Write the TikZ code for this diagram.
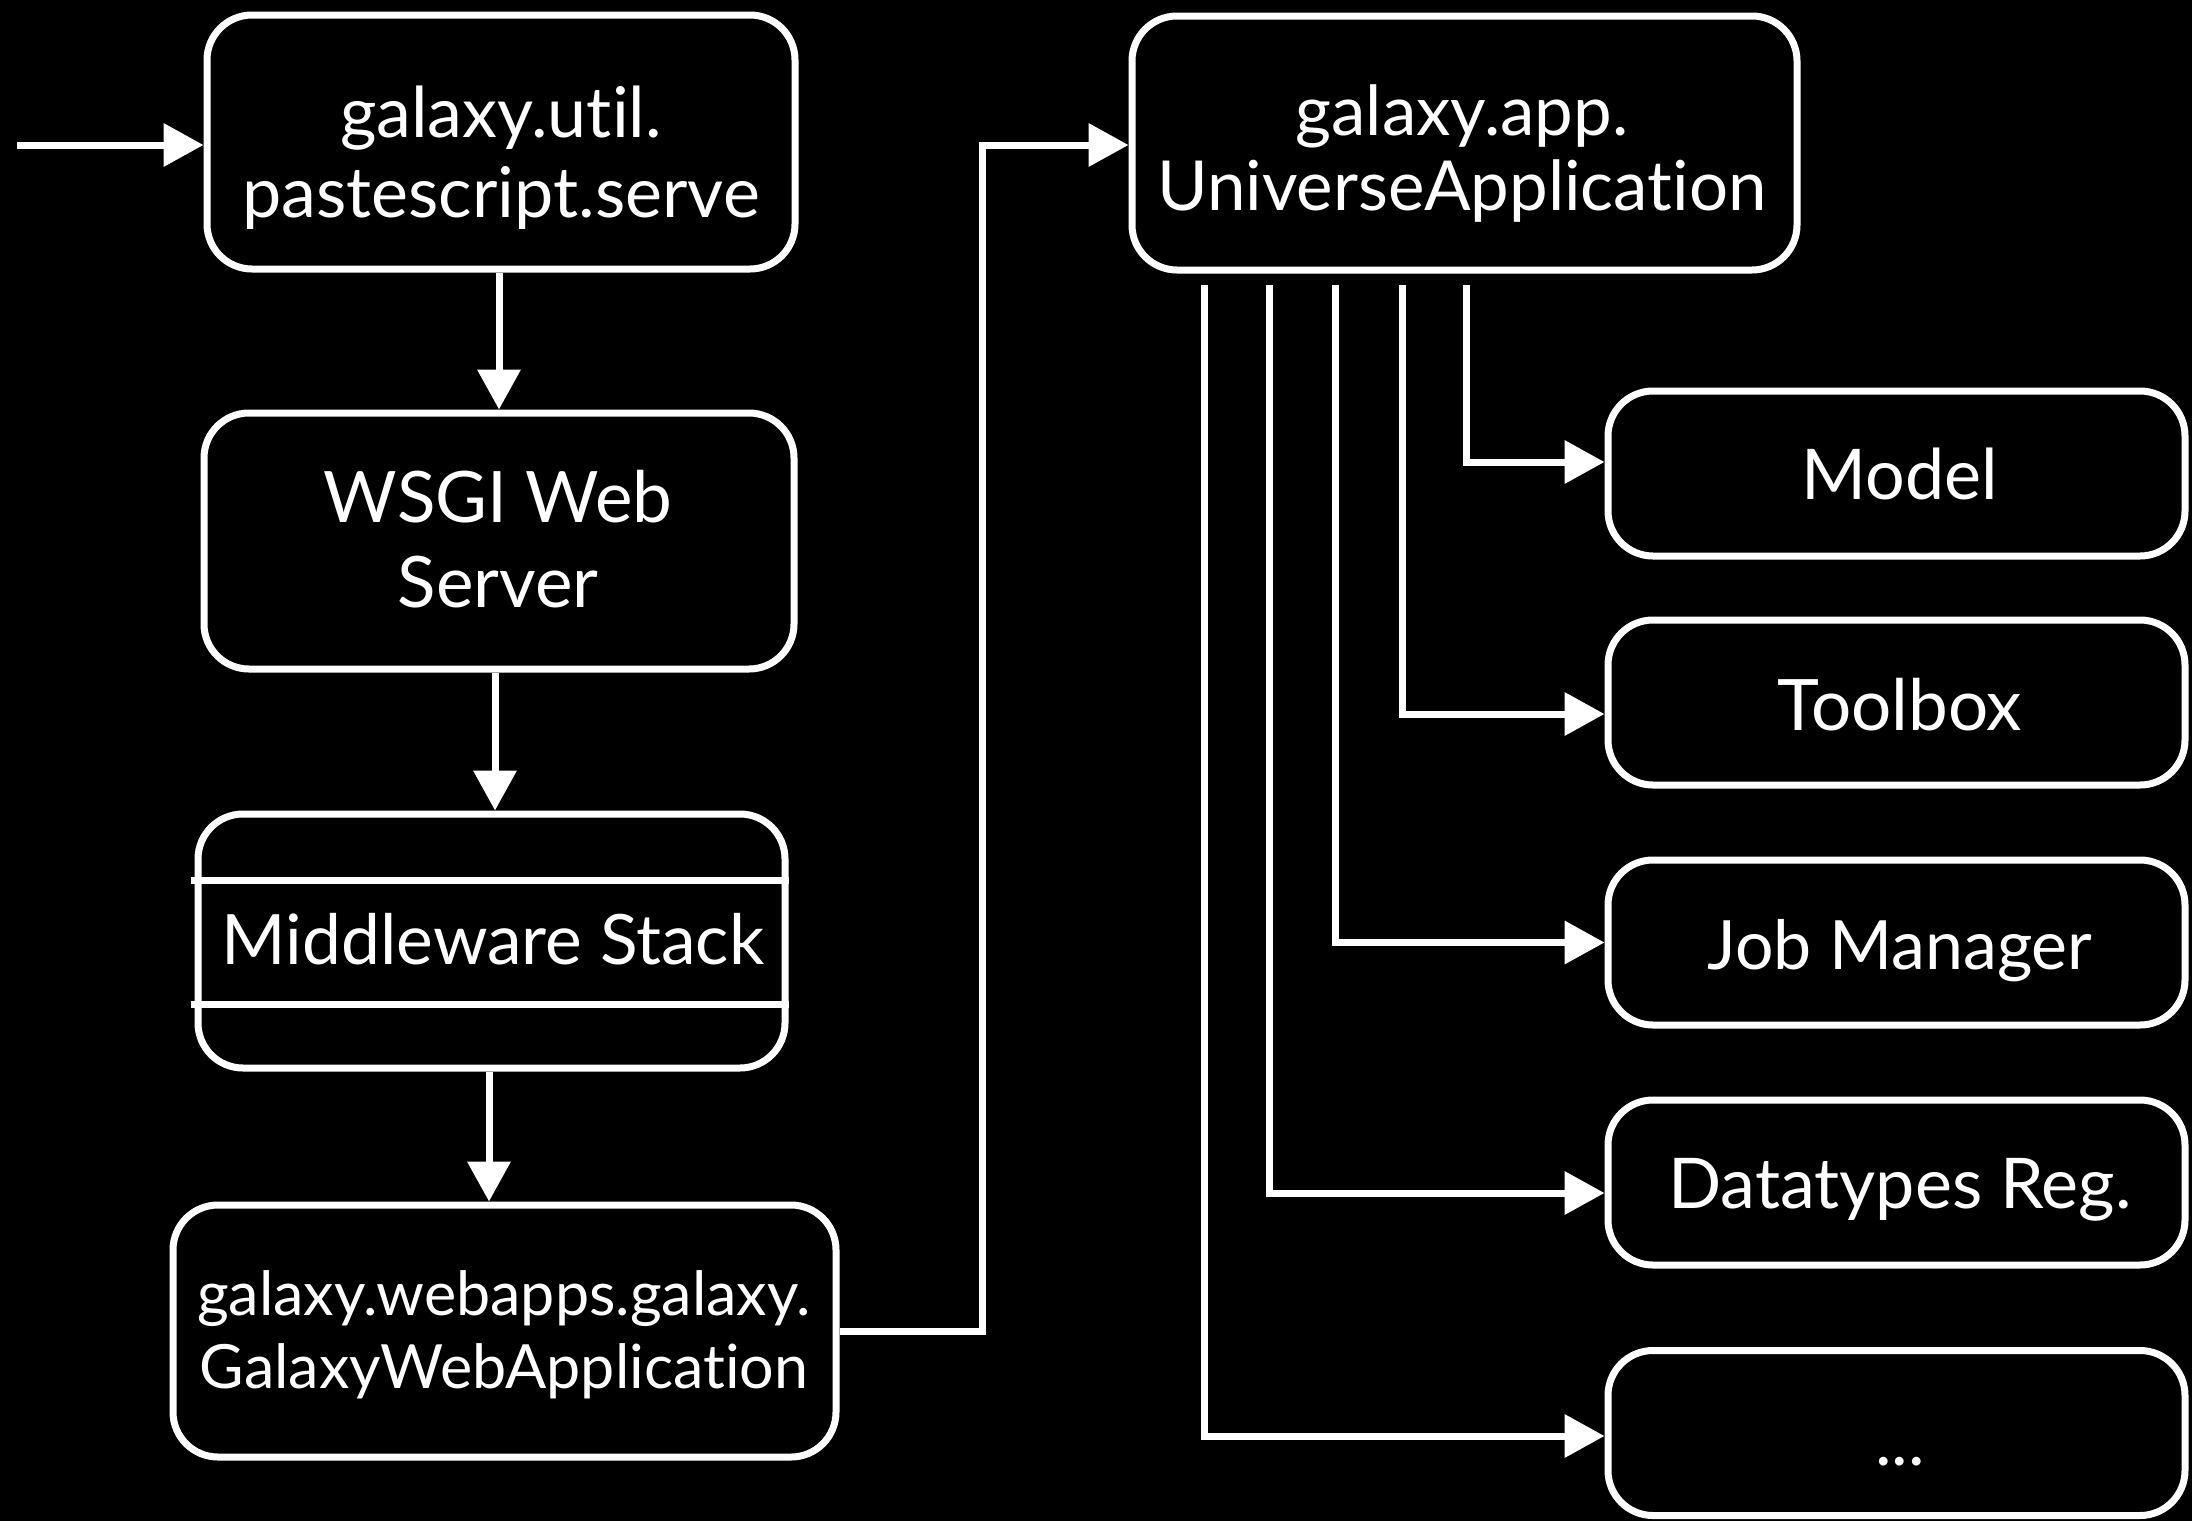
\documentclass[tikz,border=0pt]{standalone}
\usepackage{fontspec}
\setmainfont{Lato}[Ligatures=NoCommon]
\usetikzlibrary{arrows.meta,calc}
\begin{document}
\begin{tikzpicture}[x=1pt,y=-1pt,
  box/.style={draw=white, line width=7pt, rounded corners=45pt, inner sep=0pt, fill=black},
  lbl/.style={text=white, inner sep=0pt, align=center, anchor=base},
  wire/.style={draw=white, line width=7pt},
  arr/.style={wire, -{Triangle[length=40pt,width=42pt]}}]
% page
\fill[black] (0,0) rectangle (2192,1521);
\useasboundingbox (0,0) rectangle (2192,1521);

% left column
\node[box, minimum width=588pt, minimum height=254pt] (serve) at (501,142) {};
\node[box, minimum width=590pt, minimum height=256pt] (wsgi) at (499,541) {};
\node[box, minimum width=587pt, minimum height=254pt] (mw) at (491.5,941) {};
\node[box, minimum width=663pt, minimum height=252pt] (gwa) at (504.5,1331) {};

% application and its parts
\node[box, minimum width=665pt, minimum height=254pt] (uni) at (1464.5,143) {};
\node[box, minimum width=577pt, minimum height=165pt] (model) at (1896.5,473.5) {};
\node[box, minimum width=577pt, minimum height=165pt] (tool) at (1896.5,702.5) {};
\node[box, minimum width=577pt, minimum height=165pt] (job) at (1896.5,942.5) {};
\node[box, minimum width=577pt, minimum height=165pt] (dtype) at (1896.5,1182.5) {};
\node[box, minimum width=577pt, minimum height=165pt] (more) at (1896.5,1433) {};

% labels (anchored at the baseline of the last line)
\node[lbl, font=\fontsize{70}{80}\selectfont] (serve-t) at (501,217) {galaxy.util.\\pastescript.serve};
\node[lbl, font=\fontsize{71}{85}\selectfont] (wsgi-t) at (498,607) {WSGI Web\\Server};
\node[lbl, font=\fontsize{69.5}{80}\selectfont] (mw-t) at (493,964) {Middleware Stack};
\node[lbl, font=\fontsize{61}{73}\selectfont] (gwa-t) at (504,1388) {galaxy.webapps.galaxy.\\GalaxyWebApplication};
\node[lbl, font=\fontsize{69}{75}\selectfont] (uni-t) at (1462,210) {galaxy.app.\\UniverseApplication};
\node[lbl, font=\fontsize{70}{80}\selectfont] (model-t) at (1900,499) {Model};
\node[lbl, font=\fontsize{71}{80}\selectfont] (tool-t) at (1900,730) {Toolbox};
\node[lbl, font=\fontsize{68}{80}\selectfont] (job-t) at (1900,969) {Job Manager};
\node[lbl, font=\fontsize{70}{80}\selectfont] (dtype-t) at (1900,1208) {Datatypes Reg.};
\node[lbl, font=\fontsize{70}{80}\selectfont] (more-t) at (1900,1465) {...};

% stack separators
\draw[wire] ([xshift=-4pt,yshift=61pt]mw.west) -- ([yshift=61pt]mw.east);
\draw[wire] ([xshift=-4pt,yshift=-63pt]mw.west) -- ([yshift=-63pt]mw.east);

% request path
\coordinate (entry) at (17,145);
\draw[arr] (entry) -- (entry -| serve.west);
\draw[arr] ([xshift=-2pt]serve.south) -- ([xshift=-2pt]serve.south |- wsgi.north);
\draw[arr] ([xshift=-4pt]wsgi.south) -- ([xshift=-4pt]wsgi.south |- mw.north);
\draw[arr] ([xshift=-2.5pt]mw.south) -- ([xshift=-2.5pt]mw.south |- gwa.north);
\coordinate (up) at (982,145);
\draw[arr] (gwa.east) -| (up) -- (up -| uni.west);

% application components
\draw[arr] ([xshift=1.5pt,yshift=-11pt]uni.south) |- ([yshift=11.5pt]model.west);
\draw[arr] ([xshift=-62.5pt,yshift=-11pt]uni.south) |- ([yshift=-11.5pt]tool.west);
\draw[arr] ([xshift=-129.5pt,yshift=-11pt]uni.south) |- (job.west);
\draw[arr] ([xshift=-195.5pt,yshift=-11pt]uni.south) |- ([yshift=-10.5pt]dtype.west);
\draw[arr] ([xshift=-260.5pt,yshift=-11pt]uni.south) |- ([yshift=-3pt]more.west);
\end{tikzpicture}
\end{document}
